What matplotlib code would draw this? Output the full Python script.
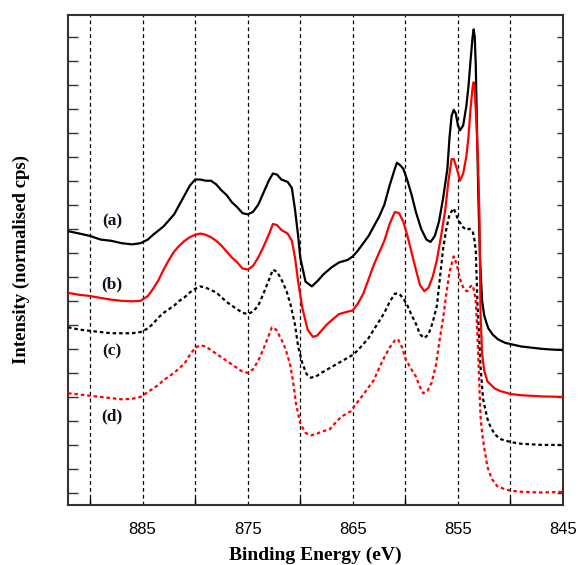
import matplotlib
matplotlib.use("Agg")
import matplotlib.pyplot as plt

# ---- data (Binding energy in eV, intensity in normalised offset units) ----
energy_a = [892.1, 891, 890, 889, 888, 887, 886, 885.2, 884.5, 884, 883, 882, 881.5, 881,
            880.5, 880, 879.5, 879, 878.5, 878, 877.5, 877, 876.5, 876, 875.5, 875, 874.5,
            874, 873.5, 873, 872.6, 872.2, 871.8, 871.2, 870.8, 870.5, 870.2, 870, 869.5,
            868.9, 868.3, 867.8, 867, 866.3, 865.5, 865, 864.5, 864, 863.5, 863, 862.5, 862,
            861.5, 861, 860.8, 860.5, 860.2, 859.8, 859.4, 859, 858.5, 858, 857.6, 857.2,
            856.8, 856.4, 856, 855.8, 855.6, 855.4, 855.2, 855, 854.8, 854.5, 854.2, 854,
            853.8, 853.6, 853.5, 853.4, 853.3, 853.2, 853.05, 852.9, 852.7, 852.5, 852.3,
            852.1, 851.7, 851.2, 850.5, 850, 849, 848, 847, 846, 845]
intensity_a = [11.4, 11.3, 11.2, 11.05, 11.0, 10.9, 10.85, 10.9, 11.05, 11.25, 11.6, 12.1, 12.5, 12.9,
               13.3, 13.55, 13.55, 13.5, 13.5, 13.35, 13.1, 12.9, 12.6, 12.4, 12.15, 12.1, 12.2,
               12.5, 13.0, 13.5, 13.8, 13.75, 13.55, 13.45, 13.2, 12.3, 11.2, 10.3, 9.3,
               9.1, 9.35, 9.6, 9.9, 10.1, 10.2, 10.35, 10.6, 10.9, 11.2, 11.6, 12.0, 12.5,
               13.3, 14.0, 14.25, 14.15, 14.0, 13.5, 12.9, 12.2, 11.5, 11.05, 10.95, 11.2,
               11.8, 12.8, 14.0, 15.3, 16.2, 16.45, 16.3, 15.8, 15.6, 15.8, 16.6, 17.4,
               18.5, 19.5, 19.8, 19.5, 18.3, 16.0, 12.7, 10.3, 8.5, 7.9, 7.6,
               7.35, 7.1, 6.9, 6.75, 6.7, 6.6, 6.55, 6.5, 6.47, 6.45]

energy_b = [892.1, 891, 890, 889, 888, 887, 886, 885.2, 884.5, 884, 883.5, 883, 882.5, 882,
            881.5, 881, 880.5, 880, 879.5, 879, 878.5, 878, 877.5, 877, 876.5, 876, 875.5,
            875, 874.5, 874, 873.5, 873, 872.6, 872.2, 871.8, 871.2, 870.8, 870.5, 870.2,
            869.8, 869.3, 868.8, 868.4, 868, 867.5, 867, 866.3, 865.5, 865, 864.5, 864, 863.5,
            863, 862.5, 862, 861.5, 861, 860.6, 860.2, 859.8, 859.4, 859, 858.6, 858.2, 857.8,
            857.4, 857, 856.6, 856.2, 855.9, 855.6, 855.4, 855.1, 854.8, 854.5, 854.2, 854,
            853.8, 853.6, 853.5, 853.4, 853.25, 853.1, 852.95, 852.85, 852.7, 852.5, 852.2,
            851.5, 851, 850, 849, 847, 845]
intensity_b = [8.83, 8.75, 8.7, 8.62, 8.55, 8.5, 8.48, 8.5, 8.7, 9.0, 9.35, 9.8, 10.2, 10.55,
               10.8, 11.0, 11.15, 11.25, 11.3, 11.25, 11.15, 11.0, 10.8, 10.55, 10.3, 10.1, 9.85,
               9.8, 9.95, 10.3, 10.75, 11.25, 11.7, 11.65, 11.45, 11.3, 11.0, 10.3, 9.3,
               8.2, 7.3, 7.0, 7.05, 7.25, 7.5, 7.7, 7.95, 8.05, 8.1, 8.4, 8.8, 9.4,
               10.0, 10.5, 11.0, 11.7, 12.2, 12.15, 11.8, 11.2, 10.5, 9.8, 9.15, 8.9, 9.05,
               9.5, 10.2, 11.2, 12.3, 13.5, 14.4, 14.4, 14.0, 13.5, 13.8, 14.5, 15.3,
               16.5, 17.4, 17.6, 17.3, 16.0, 14.5, 12.0, 8.0, 6.3, 5.6, 5.15,
               4.85, 4.75, 4.62, 4.57, 4.52, 4.5]

energy_c = [892.1, 891, 890, 889, 888, 887, 886, 885.2, 884.5, 884, 883.5, 883, 882, 881.5,
            881, 880.5, 880, 879.5, 879, 878.5, 878, 877.5, 877, 876.5, 876, 875.5, 875,
            874.5, 874, 873.5, 873, 872.6, 872.2, 871.8, 871.3, 870.9, 870.5, 870.2, 869.8,
            869.4, 869, 868.5, 868, 867, 866, 865, 864.5, 864, 863.5, 863, 862.5, 862, 861.5,
            861, 860.6, 860.2, 859.8, 859.4, 859, 858.6, 858.2, 857.8, 857.4, 857, 856.7,
            856.4, 856.1, 855.8, 855.4, 855, 854.6, 854.2, 853.9, 853.6, 853.45, 853.3,
            853.15, 852.85, 852.6, 852.2, 851.9, 851.5, 851, 850, 849, 847, 845]
intensity_c = [7.4, 7.3, 7.25, 7.2, 7.15, 7.15, 7.15, 7.2, 7.35, 7.55, 7.8, 8.0, 8.3, 8.5,
               8.65, 8.85, 9.0, 9.1, 9.05, 8.95, 8.85, 8.65, 8.45, 8.3, 8.15, 8.0, 7.95,
               8.05, 8.3, 8.8, 9.35, 9.8, 9.7, 9.4, 8.9, 8.3, 7.5, 6.6, 5.9,
               5.45, 5.3, 5.35, 5.5, 5.75, 6.0, 6.25, 6.45, 6.7, 6.95, 7.3, 7.65, 8.0, 8.45,
               8.8, 8.8, 8.6, 8.3, 7.9, 7.55, 7.1, 6.95, 7.1, 7.6, 8.3, 9.5,
               10.7, 11.5, 12.1, 12.35, 11.9, 11.6, 11.45, 11.5, 11.4, 11.1, 10.6,
               8.5, 5.75, 4.4, 3.6, 3.25, 2.95, 2.75, 2.62, 2.55, 2.5, 2.5]

energy_d = [892.1, 891, 890, 889, 888, 887, 886, 885.2, 884.5, 884, 883.5, 883, 882, 881.5,
            881, 880.5, 880, 879.5, 879, 878.5, 878, 877.5, 877, 876.5, 876, 875.5, 875,
            874.5, 874, 873.5, 873, 872.7, 872.3, 871.8, 871.4, 871, 870.7, 870.4, 870,
            869.5, 869, 868.5, 868, 867.2, 866.5, 866, 865.2, 864.7, 864, 863.5, 863, 862.5,
            862, 861.5, 861, 860.7, 860.3, 860, 859.5, 859, 858.6, 858.3, 857.9, 857.5,
            857.1, 856.8, 856.4, 856.1, 855.8, 855.4, 855.1, 854.8, 854.4, 854.1, 853.8,
            853.6, 853.45, 853.3, 853.15, 852.85, 852.7, 852.5, 852.2, 851.8, 851.25,
            850.5, 850, 849, 847, 845]
intensity_d = [4.65, 4.6, 4.55, 4.5, 4.45, 4.4, 4.42, 4.5, 4.7, 4.85, 5.0, 5.2, 5.5, 5.7,
               5.9, 6.25, 6.55, 6.65, 6.6, 6.45, 6.3, 6.15, 6.0, 5.85, 5.7, 5.55, 5.5,
               5.65, 6.0, 6.5, 7.05, 7.4, 7.3, 6.9, 6.5, 5.9, 5.2, 4.2, 3.4,
               3.0, 2.9, 2.95, 3.05, 3.15, 3.5, 3.7, 3.9, 4.2, 4.6, 4.9, 5.2, 5.7,
               6.15, 6.55, 6.85, 6.9, 6.55, 6.1, 5.7, 5.35, 4.9, 4.65, 4.75, 5.1,
               5.8, 6.7, 7.8, 8.8, 9.7, 10.35, 10.0, 9.4, 8.95, 8.9, 9.1,
               9.15, 8.9, 8.5, 7.2, 3.7, 3.0, 2.4, 1.6, 1.1, 0.78,
               0.65, 0.6, 0.55, 0.52, 0.55]

curve_labels = ["(a)", "(b)", "(c)", "(d)"]
label_x = [887.9, 887.9, 887.9, 887.9]
label_y = [11.8, 9.17, 6.4, 3.67]

xtick_values = [885, 875, 865, 855, 845]
grid_values = [890, 885, 880, 875, 870, 865, 860, 855, 850]
ytick_values = [0.5 + k for k in range(20)]

# ---- figure ----
fig = plt.figure(figsize=(5.79, 5.65), dpi=100)
ax = fig.add_axes([0.1174, 0.1062, 0.855, 0.8673])

for g in grid_values:
    ax.axvline(g, color="black", lw=0.9, ls=(0, (3, 2.5)), zorder=1)

ax.plot(energy_a, intensity_a, color="black", lw=1.6, zorder=3)
ax.plot(energy_b, intensity_b, color="#ff0000", lw=1.6, zorder=3)
ax.plot(energy_c, intensity_c, color="black", lw=1.6, ls=(0, (1.6, 1.3)), zorder=3)
ax.plot(energy_d, intensity_d, color="#ff0000", lw=1.6, ls=(0, (1.6, 1.3)), zorder=3)

for t, x, y in zip(curve_labels, label_x, label_y):
    ax.text(x, y, t, family="Liberation Serif", fontweight="bold", fontsize=12.5,
            ha="center", va="center", color="#111122")

ax.set_xlim(892.1, 845)
ax.set_ylim(0, 20.4)
ax.set_xticks(xtick_values)
ax.set_xticks(grid_values, minor=True)
ax.set_xticklabels([str(v) for v in xtick_values], family="Liberation Sans", fontsize=12)
ax.set_yticks(ytick_values)
ax.set_yticklabels([])
ax.tick_params(axis="x", which="both", direction="in", length=0, pad=12)
ax.tick_params(axis="x", which="minor", length=5, width=1.0, bottom=True)
ax.tick_params(axis="y", which="major", direction="in", length=7, width=1.0,
               left=True, right=True, colors="#333333")
for tk in ax.yaxis.get_major_ticks():
    tk.tick2line.set_markersize(4.5)

for s in ax.spines.values():
    s.set_linewidth(1.5)
    s.set_color("#333333")

ax.set_xlabel("Binding Energy (eV)", family="Liberation Serif", fontweight="bold",
              fontsize=14, labelpad=7)
ax.set_ylabel("Intensity (normalised cps)", family="Liberation Serif", fontweight="bold",
              fontsize=13.5, labelpad=24)

fig.savefig("out.png", dpi=100)
